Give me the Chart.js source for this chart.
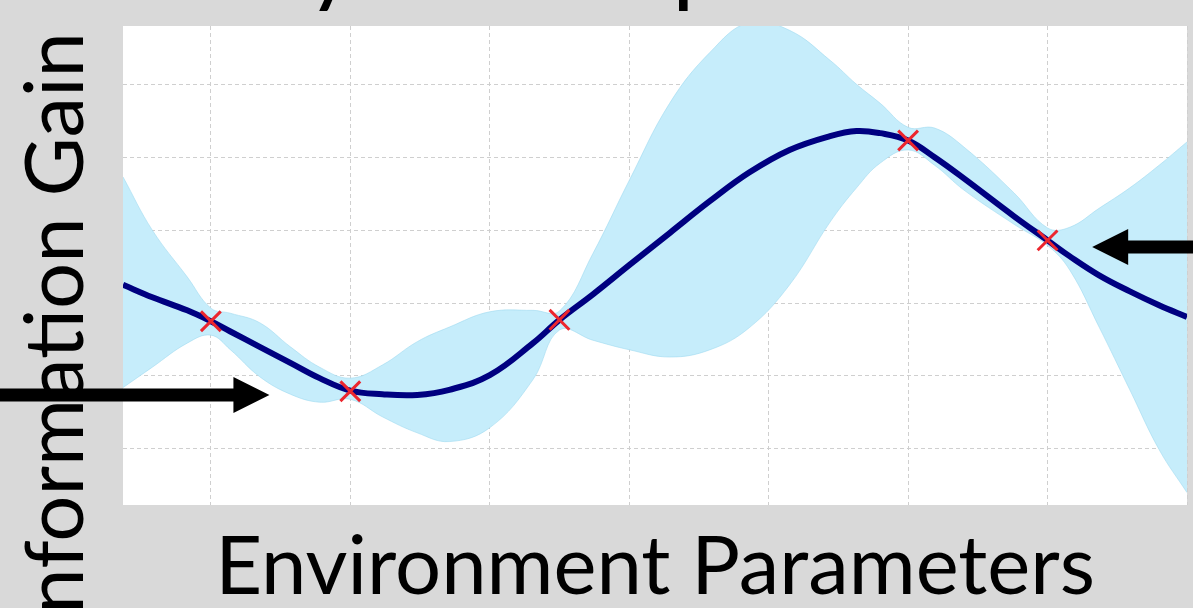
<!DOCTYPE html>
<html>
<head>
<meta charset="utf-8">
<script src="https://cdn.jsdelivr.net/npm/chart.js@4.4.1/dist/chart.umd.min.js"></script>
<style>
  html, body { margin: 0; padding: 0; background: #d9d9d9; overflow: hidden; }
  #wrap { width: 1193px; height: 608px; position: relative; }
</style>
</head>
<body>
<div id="wrap"><canvas id="c" width="1193" height="608"></canvas></div>
<script>
// Sampled positions along the parameter axis
const sampleX = [0.37, 0.58, 0.83, 1, 1.14, 1.35, 1.57, 1.78, 2, 2.23, 2.48, 2.71, 3, 3.31, 3.5, 3.74,
                 4, 4.29, 4.58, 4.86, 5.15, 5.44, 5.63, 5.8, 6, 6.19, 6.4, 6.76, 7, 7.16, 7.37, 7.59, 7.8, 8];
// Posterior mean of the surrogate model
const meanY = [2.25, 2.08, 1.90, 1.75, 1.61, 1.40, 1.18, 0.97, 0.80, 0.75, 0.74, 0.81, 1.01, 1.45, 1.77, 2.12,
               2.52, 2.96, 3.40, 3.79, 4.10, 4.29, 4.36, 4.33, 4.23, 4.00, 3.71, 3.19, 2.86, 2.64, 2.38, 2.16, 1.97, 1.81];
// Upper and lower edges of the confidence band
const upperY = [3.73, 3.00, 2.36, 1.93, 1.86, 1.73, 1.40, 1.12, 0.97, 1.15, 1.47, 1.67, 1.88, 1.90, 1.89, 2.68,
                3.68, 4.74, 5.44, 5.85, 5.74, 5.33, 5.00, 4.74, 4.41, 4.40, 4.14, 3.51, 3.03, 3.04, 3.30, 3.58, 3.89, 4.21];
const lowerY = [0.84, 1.12, 1.45, 1.56, 1.36, 0.99, 0.75, 0.64, 0.68, 0.44, 0.22, 0.10, 0.29, 0.95, 1.63, 1.49,
                1.36, 1.26, 1.36, 1.66, 2.25, 3.11, 3.58, 3.92, 4.10, 3.89, 3.55, 3.08, 2.79, 2.45, 1.67, 0.81, -0.01, -0.60];
// Evaluated samples
const obsX = [1, 2, 3.5, 6, 7];
const obsY = [1.75, 0.79, 1.77, 4.23, 2.86];
// Grid positions
const xGrid = [1, 2, 3, 4, 5, 6, 7, 8];
const yGrid = [0, 1, 2, 3, 4, 5];
// Arrow tips (data coordinates); dir 1 points right, -1 points left
const arrowTips = [{ x: 1.42, y: 0.74, dir: 1 }, { x: 7.32, y: 2.77, dir: -1 }];

const X_MIN = 0.37, X_MAX = 8, Y_MIN = -0.77, Y_MAX = 5.8;
const FONT = 'Lato, "Open Sans", sans-serif';
const TITLE = 'Bayesian Optimization';
const X_LABEL = 'Environment Parameters';
const Y_LABEL = 'Information Gain';

// Size the axis labels so the horizontal label spans about 880px
const measureCtx = document.createElement('canvas').getContext('2d');
function widthAt(text, size) { measureCtx.font = size + 'px ' + FONT; return measureCtx.measureText(text).width; }
const labelSize = 100 * 880 / widthAt(X_LABEL, 100);

const toPts = (xs, ys) => xs.map((x, i) => ({ x: x, y: ys[i] }));

const plotBackground = {
  id: 'plotBackground',
  beforeDraw(chart) {
    const { ctx, chartArea: a } = chart;
    ctx.save();
    ctx.fillStyle = '#ffffff';
    ctx.fillRect(a.left, a.top, a.right - a.left, a.bottom - a.top);
    ctx.restore();
  }
};

const decorations = {
  id: 'decorations',
  afterDraw(chart) {
    const { ctx, scales } = chart;
    ctx.save();
    ctx.fillStyle = '#000';

    // vertical axis label, reading upward
    ctx.font = labelSize + 'px ' + FONT;
    const yw = ctx.measureText(Y_LABEL).width;
    ctx.translate(83, 32 + yw);
    ctx.rotate(-Math.PI / 2);
    ctx.textAlign = 'left';
    ctx.textBaseline = 'alphabetic';
    ctx.fillText(Y_LABEL, 0, 0);
    ctx.setTransform(1, 0, 0, 1, 0, 0);

    // heading sitting mostly above the canvas
    const ts = 96;
    ctx.font = ts + 'px ' + FONT;
    const startX = 318 - ctx.measureText('Ba').width - 0.2 * ctx.measureText('y').width;
    const desc = ctx.measureText('p').actualBoundingBoxDescent;
    ctx.textAlign = 'left';
    ctx.fillText(TITLE, startX, 11 - desc);

    // arrows
    arrowTips.forEach(t => {
      const tx = scales.x.getPixelForValue(t.x);
      const ty = scales.y.getPixelForValue(t.y);
      const head = 36, half = 18, shaft = 6.5;
      const base = tx - t.dir * head;
      const end = t.dir > 0 ? 0 : chart.width;
      ctx.beginPath();
      ctx.moveTo(end, ty - shaft);
      ctx.lineTo(base, ty - shaft);
      ctx.lineTo(base, ty - half);
      ctx.lineTo(tx, ty);
      ctx.lineTo(base, ty + half);
      ctx.lineTo(base, ty + shaft);
      ctx.lineTo(end, ty + shaft);
      ctx.closePath();
      ctx.fill();
    });
    ctx.restore();
  }
};

new Chart(document.getElementById('c'), {
  type: 'line',
  data: {
    datasets: [
      {
        label: 'samples', type: 'scatter', data: toPts(obsX, obsY), order: 0,
        pointStyle: 'crossRot', pointRadius: 14, pointBorderWidth: 3,
        pointBorderColor: 'rgb(236,38,46)', pointBackgroundColor: 'rgb(236,38,46)', showLine: false
      },
      {
        label: 'mean', data: toPts(sampleX, meanY), order: 1,
        borderColor: '#000080', borderWidth: 6, pointRadius: 0,
        tension: 0.4, fill: false
      },
      {
        label: 'upper', data: toPts(sampleX, upperY), order: 2,
        borderColor: 'rgba(160,218,240,0.6)', borderWidth: 1, pointRadius: 0,
        tension: 0.4, fill: false
      },
      {
        label: 'lower', data: toPts(sampleX, lowerY), order: 3,
        borderColor: 'rgba(160,218,240,0.6)', borderWidth: 1, pointRadius: 0,
        tension: 0.4, fill: '-1', backgroundColor: '#c6edfb'
      }
    ]
  },
  options: {
    responsive: false,
    animation: false,
    events: [],
    layout: { autoPadding: false, padding: { top: 26, right: 6, left: 0, bottom: 0 } },
    plugins: { legend: { display: false }, tooltip: { enabled: false } },
    scales: {
      x: {
        type: 'linear', min: X_MIN, max: X_MAX,
        afterBuildTicks: s => { s.ticks = xGrid.map(v => ({ value: v })); },
        afterFit: s => { s.height = 103; },
        ticks: { display: false },
        grid: { color: '#cfcfcf', lineWidth: 1, drawTicks: false },
        border: { display: false, dash: [4, 3] },
        title: {
          display: true, text: X_LABEL, color: '#000',
          font: { family: FONT, size: labelSize, lineHeight: 1 },
          padding: { top: 0, bottom: 0 }
        }
      },
      y: {
        type: 'linear', min: Y_MIN, max: Y_MAX,
        afterBuildTicks: s => { s.ticks = yGrid.map(v => ({ value: v })); },
        afterFit: s => { s.width = 123; },
        ticks: { display: false },
        grid: { color: '#cfcfcf', lineWidth: 1, drawTicks: false },
        border: { display: false, dash: [4, 3] }
      }
    }
  },
  plugins: [plotBackground, decorations]
});
</script>
</body>
</html>
